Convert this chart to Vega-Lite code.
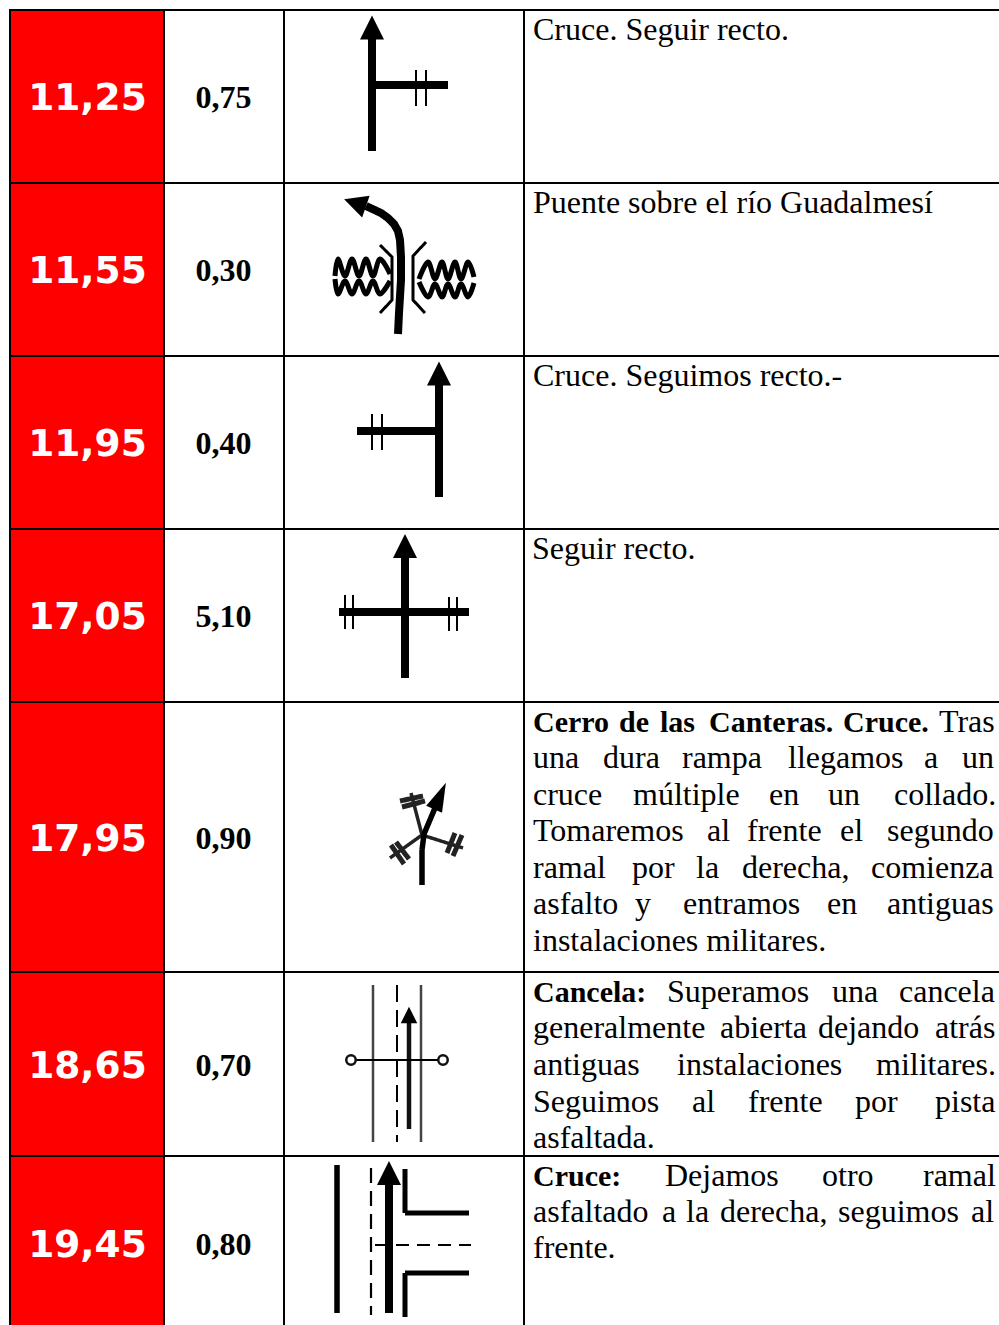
{"$schema":"https://vega.github.io/schema/vega-lite/v6.json","width":999,"height":1325,"padding":0,"autosize":{"type":"none"},"background":"white","config":{"view":{"stroke":null}},
"datasets":{
"filas":[{"km":"11,25","parcial":"0,75","top":10,"bottom":183,"mid":97},{"km":"11,55","parcial":"0,30","top":183,"bottom":356,"mid":270},{"km":"11,95","parcial":"0,40","top":356,"bottom":529,"mid":443},{"km":"17,05","parcial":"5,10","top":529,"bottom":702,"mid":616},{"km":"17,95","parcial":"0,90","top":702,"bottom":972,"mid":838},{"km":"18,65","parcial":"0,70","top":972,"bottom":1156,"mid":1065},{"km":"19,45","parcial":"0,80","top":1156,"bottom":1325,"mid":1244}],
"columnas":[{"x":10},{"x":164},{"x":284},{"x":524}],
"lineas":[{"y":10},{"y":183},{"y":356},{"y":529},{"y":702},{"y":972},{"y":1156}],
"palabras":[
{"w":"Cruce. Seguir recto.","x":533,"y":39.5,"b":0},
{"w":"Puente sobre el río Guadalmesí","x":533,"y":212.5,"b":0},
{"w":"Cruce. Seguimos recto.-","x":533,"y":385.5,"b":0},
{"w":"Seguir recto.","x":532,"y":558.5,"b":0},
{"w":"Cerro","x":533,"y":731.5,"b":1},{"w":"de","x":619,"y":731.5,"b":1},{"w":"las","x":660,"y":731.5,"b":1},{"w":"Canteras.","x":709,"y":731.5,"b":1},{"w":"Cruce.","x":843,"y":731.5,"b":1},{"w":"Tras","x":939,"y":731.5,"b":0},
{"w":"una","x":533,"y":768,"b":0},{"w":"dura","x":603,"y":768,"b":0},{"w":"rampa","x":682,"y":768,"b":0},{"w":"llegamos","x":788,"y":768,"b":0},{"w":"a","x":924,"y":768,"b":0},{"w":"un","x":962,"y":768,"b":0},
{"w":"cruce","x":533,"y":804.5,"b":0},{"w":"múltiple","x":633,"y":804.5,"b":0},{"w":"en","x":769,"y":804.5,"b":0},{"w":"un","x":828,"y":804.5,"b":0},{"w":"collado.","x":894,"y":804.5,"b":0},
{"w":"Tomaremos","x":533,"y":840.5,"b":0},{"w":"al","x":707,"y":840.5,"b":0},{"w":"frente","x":747,"y":840.5,"b":0},{"w":"el","x":840,"y":840.5,"b":0},{"w":"segundo","x":887,"y":840.5,"b":0},
{"w":"ramal","x":533,"y":877.5,"b":0},{"w":"por","x":632,"y":877.5,"b":0},{"w":"la","x":696,"y":877.5,"b":0},{"w":"derecha,","x":742,"y":877.5,"b":0},{"w":"comienza","x":871,"y":877.5,"b":0},
{"w":"asfalto","x":533,"y":913.5,"b":0},{"w":"y","x":635,"y":913.5,"b":0},{"w":"entramos","x":683,"y":913.5,"b":0},{"w":"en","x":827,"y":913.5,"b":0},{"w":"antiguas","x":887,"y":913.5,"b":0},
{"w":"instalaciones militares.","x":533,"y":950.5,"b":0},
{"w":"Cancela:","x":533,"y":1002,"b":1},{"w":"Superamos","x":667,"y":1002,"b":0},{"w":"una","x":832,"y":1002,"b":0},{"w":"cancela","x":899,"y":1002,"b":0},
{"w":"generalmente","x":533,"y":1038,"b":0},{"w":"abierta","x":720,"y":1038,"b":0},{"w":"dejando","x":818,"y":1038,"b":0},{"w":"atrás","x":935,"y":1038,"b":0},
{"w":"antiguas","x":533,"y":1075,"b":0},{"w":"instalaciones","x":677,"y":1075,"b":0},{"w":"militares.","x":876,"y":1075,"b":0},
{"w":"Seguimos","x":533,"y":1112,"b":0},{"w":"al","x":692,"y":1112,"b":0},{"w":"frente","x":748,"y":1112,"b":0},{"w":"por","x":855,"y":1112,"b":0},{"w":"pista","x":935,"y":1112,"b":0},
{"w":"asfaltada.","x":533,"y":1148,"b":0},
{"w":"Cruce:","x":533,"y":1186,"b":1},{"w":"Dejamos","x":665,"y":1186,"b":0},{"w":"otro","x":822,"y":1186,"b":0},{"w":"ramal","x":923,"y":1186,"b":0},
{"w":"asfaltado","x":533,"y":1222,"b":0},{"w":"a","x":662,"y":1222,"b":0},{"w":"la","x":686,"y":1222,"b":0},{"w":"derecha,","x":720,"y":1222,"b":0},{"w":"seguimos","x":838,"y":1222,"b":0},{"w":"al","x":971,"y":1222,"b":0},
{"w":"frente.","x":533,"y":1258,"b":0}],
"trazos":[
{"p":"a1","k":"calzada","i":0,"x":372,"y":151},{"p":"a1","k":"calzada","i":1,"x":372,"y":38},
{"p":"a2","k":"calzada","i":0,"x":372,"y":85},{"p":"a2","k":"calzada","i":1,"x":448,"y":85},
{"p":"a3","k":"marca","i":0,"x":416,"y":70},{"p":"a3","k":"marca","i":1,"x":416,"y":106},
{"p":"a4","k":"marca","i":0,"x":426,"y":70},{"p":"a4","k":"marca","i":1,"x":426,"y":106},
{"p":"b1","k":"calzada","i":0,"x":398,"y":334},{"p":"b1","k":"calzada","i":1,"x":399,"y":313},{"p":"b1","k":"calzada","i":2,"x":401,"y":280},{"p":"b1","k":"calzada","i":3,"x":401,"y":257},{"p":"b1","k":"calzada","i":4,"x":400,"y":240},{"p":"b1","k":"calzada","i":5,"x":398,"y":231},{"p":"b1","k":"calzada","i":6,"x":394,"y":224},{"p":"b1","k":"calzada","i":7,"x":388,"y":218},{"p":"b1","k":"calzada","i":8,"x":381,"y":213},{"p":"b1","k":"calzada","i":9,"x":366,"y":206},
{"p":"b2","k":"arista","i":0,"x":380,"y":245},{"p":"b2","k":"arista","i":1,"x":392,"y":257},{"p":"b2","k":"arista","i":2,"x":392,"y":300},{"p":"b2","k":"arista","i":3,"x":380,"y":313},
{"p":"b3","k":"arista","i":0,"x":426,"y":242},{"p":"b3","k":"arista","i":1,"x":413,"y":256},{"p":"b3","k":"arista","i":2,"x":413,"y":300},{"p":"b3","k":"arista","i":3,"x":425,"y":313},
{"p":"c1","k":"calzada","i":0,"x":439,"y":497},{"p":"c1","k":"calzada","i":1,"x":439,"y":384},
{"p":"c2","k":"calzada","i":0,"x":357,"y":431},{"p":"c2","k":"calzada","i":1,"x":439,"y":431},
{"p":"c3","k":"marca","i":0,"x":372,"y":414},{"p":"c3","k":"marca","i":1,"x":372,"y":450},
{"p":"c4","k":"marca","i":0,"x":382,"y":414},{"p":"c4","k":"marca","i":1,"x":382,"y":450},
{"p":"d1","k":"calzada","i":0,"x":405,"y":678},{"p":"d1","k":"calzada","i":1,"x":405,"y":557},
{"p":"d2","k":"calzada","i":0,"x":339,"y":612},{"p":"d2","k":"calzada","i":1,"x":469,"y":612},
{"p":"d3","k":"marca","i":0,"x":345,"y":595},{"p":"d3","k":"marca","i":1,"x":345,"y":629},
{"p":"d4","k":"marca","i":0,"x":353,"y":595},{"p":"d4","k":"marca","i":1,"x":353,"y":629},
{"p":"d5","k":"marca","i":0,"x":449,"y":597},{"p":"d5","k":"marca","i":1,"x":449,"y":631},
{"p":"d6","k":"marca","i":0,"x":457,"y":597},{"p":"d6","k":"marca","i":1,"x":457,"y":631},
{"p":"e1","k":"ramal","i":0,"x":411,"y":793},{"p":"e1","k":"ramal","i":1,"x":422,"y":835},{"p":"e1","k":"ramal","i":2,"x":390,"y":858},
{"p":"e2","k":"ramal","i":0,"x":422,"y":835},{"p":"e2","k":"ramal","i":1,"x":463,"y":848},
{"p":"e3","k":"barra","i":0,"x":400,"y":801},{"p":"e3","k":"barra","i":1,"x":423,"y":796},
{"p":"e4","k":"barra","i":0,"x":402,"y":807},{"p":"e4","k":"barra","i":1,"x":425,"y":801},
{"p":"e5","k":"barra","i":0,"x":391,"y":845},{"p":"e5","k":"barra","i":1,"x":404,"y":864},
{"p":"e6","k":"barra","i":0,"x":396,"y":842},{"p":"e6","k":"barra","i":1,"x":409,"y":859},
{"p":"e7","k":"barra","i":0,"x":447,"y":853},{"p":"e7","k":"barra","i":1,"x":455,"y":833},
{"p":"e8","k":"barra","i":0,"x":453,"y":856},{"p":"e8","k":"barra","i":1,"x":462,"y":835},
{"p":"e9","k":"principal","i":0,"x":422,"y":885},{"p":"e9","k":"principal","i":1,"x":422,"y":850},{"p":"e9","k":"principal","i":2,"x":424,"y":834},{"p":"e9","k":"principal","i":3,"x":435,"y":808},
{"p":"f1","k":"borde","i":0,"x":373,"y":985},{"p":"f1","k":"borde","i":1,"x":373,"y":1142},
{"p":"f2","k":"borde","i":0,"x":421,"y":985},{"p":"f2","k":"borde","i":1,"x":421,"y":1142},
{"p":"f3","k":"eje","i":0,"x":397,"y":985},{"p":"f3","k":"eje","i":1,"x":397,"y":1142},
{"p":"f4","k":"fino","i":0,"x":409,"y":1129},{"p":"f4","k":"fino","i":1,"x":409,"y":1022},
{"p":"f5","k":"marca","i":0,"x":351,"y":1060},{"p":"f5","k":"marca","i":1,"x":443,"y":1060},
{"p":"g1","k":"margen","i":0,"x":337,"y":1165},{"p":"g1","k":"margen","i":1,"x":337,"y":1313},
{"p":"g2","k":"eje2","i":0,"x":371,"y":1168},{"p":"g2","k":"eje2","i":1,"x":371,"y":1315},
{"p":"g3","k":"calzada","i":0,"x":389,"y":1313},{"p":"g3","k":"calzada","i":1,"x":389,"y":1184},
{"p":"g4","k":"acera","i":0,"x":405,"y":1169},{"p":"g4","k":"acera","i":1,"x":405,"y":1213},{"p":"g4","k":"acera","i":2,"x":469,"y":1213},
{"p":"g5","k":"acera","i":0,"x":405,"y":1317},{"p":"g5","k":"acera","i":1,"x":405,"y":1273},{"p":"g5","k":"acera","i":2,"x":469,"y":1273},
{"p":"g6","k":"transversal","i":0,"x":375,"y":1245},{"p":"g6","k":"transversal","i":1,"x":471,"y":1245}],
"ondas":[
{"p":"o1","i":0,"x":335,"y":276},{"p":"o1","i":1,"x":338,"y":259},{"p":"o1","i":2,"x":345,"y":276},{"p":"o1","i":3,"x":352,"y":259},{"p":"o1","i":4,"x":359,"y":276},{"p":"o1","i":5,"x":366,"y":259},{"p":"o1","i":6,"x":373,"y":276},{"p":"o1","i":7,"x":380,"y":259},{"p":"o1","i":8,"x":390,"y":274},
{"p":"o2","i":0,"x":335,"y":279},{"p":"o2","i":1,"x":338,"y":294},{"p":"o2","i":2,"x":345,"y":281},{"p":"o2","i":3,"x":352,"y":294},{"p":"o2","i":4,"x":359,"y":281},{"p":"o2","i":5,"x":366,"y":294},{"p":"o2","i":6,"x":373,"y":281},{"p":"o2","i":7,"x":380,"y":294},{"p":"o2","i":8,"x":390,"y":281},
{"p":"o3","i":0,"x":419,"y":279},{"p":"o3","i":1,"x":428,"y":262},{"p":"o3","i":2,"x":435,"y":279},{"p":"o3","i":3,"x":442,"y":262},{"p":"o3","i":4,"x":448,"y":279},{"p":"o3","i":5,"x":455,"y":262},{"p":"o3","i":6,"x":461,"y":279},{"p":"o3","i":7,"x":468,"y":262},{"p":"o3","i":8,"x":474,"y":277},
{"p":"o4","i":0,"x":419,"y":282},{"p":"o4","i":1,"x":428,"y":297},{"p":"o4","i":2,"x":435,"y":284},{"p":"o4","i":3,"x":442,"y":297},{"p":"o4","i":4,"x":448,"y":284},{"p":"o4","i":5,"x":455,"y":297},{"p":"o4","i":6,"x":461,"y":284},{"p":"o4","i":7,"x":468,"y":297},{"p":"o4","i":8,"x":474,"y":283}],
"flechas":[
{"k":"recta","x":372,"y":27.5,"r":0},{"k":"curva","x":355,"y":203,"r":289},{"k":"recta","x":439,"y":373.5,"r":0},{"k":"recta","x":405,"y":546,"r":0},{"k":"aguda","x":440,"y":796,"r":24},{"k":"pequena","x":409,"y":1015,"r":0},{"k":"recta","x":389,"y":1173,"r":0}],
"anillos":[{"x":351,"y":1060},{"x":443,"y":1060}]
},
"layer":[
{"data":{"name":"filas"},"mark":{"type":"rect","color":"#ff0000"},"encoding":{"x":{"datum":10,"type":"quantitative","scale":{"domain":[0,999]},"axis":null},"x2":{"datum":164},"y":{"field":"top","type":"quantitative","scale":{"domain":[1325,0]},"axis":null},"y2":{"field":"bottom"}}},
{"data":{"name":"columnas"},"mark":{"type":"rule","color":"#000000","strokeWidth":2},"encoding":{"x":{"field":"x","type":"quantitative","scale":{"domain":[0,999]},"axis":null},"y":{"datum":9,"type":"quantitative","scale":{"domain":[1325,0]},"axis":null},"y2":{"datum":1325}}},
{"data":{"name":"lineas"},"mark":{"type":"rule","color":"#000000","strokeWidth":2},"encoding":{"y":{"field":"y","type":"quantitative","scale":{"domain":[1325,0]},"axis":null},"x":{"datum":9,"type":"quantitative","scale":{"domain":[0,999]},"axis":null},"x2":{"datum":999}}},
{"data":{"name":"filas"},"mark":{"type":"text","font":"DejaVu Sans","fontWeight":"bold","fontSize":37.5,"color":"white","align":"center","baseline":"middle","dy":2},"encoding":{"text":{"field":"km"},"x":{"datum":87.5,"type":"quantitative","scale":{"domain":[0,999]},"axis":null},"y":{"field":"mid","type":"quantitative","scale":{"domain":[1325,0]},"axis":null}}},
{"data":{"name":"filas"},"mark":{"type":"text","font":"Liberation Serif","fontWeight":"bold","fontSize":32,"color":"black","align":"center","baseline":"middle","dy":0.5},"encoding":{"text":{"field":"parcial"},"x":{"datum":223.5,"type":"quantitative","scale":{"domain":[0,999]},"axis":null},"y":{"field":"mid","type":"quantitative","scale":{"domain":[1325,0]},"axis":null}}},
{"data":{"name":"palabras"},"transform":[{"filter":"datum.b==0"}],"mark":{"type":"text","font":"Liberation Serif","fontSize":32,"color":"black","align":"left","baseline":"alphabetic"},"encoding":{"text":{"field":"w"},"x":{"field":"x","type":"quantitative","scale":{"domain":[0,999]},"axis":null},"y":{"field":"y","type":"quantitative","scale":{"domain":[1325,0]},"axis":null}}},
{"data":{"name":"palabras"},"transform":[{"filter":"datum.b==1"}],"mark":{"type":"text","font":"Liberation Serif","fontWeight":"bold","fontSize":30,"color":"black","align":"left","baseline":"alphabetic"},"encoding":{"text":{"field":"w"},"x":{"field":"x","type":"quantitative","scale":{"domain":[0,999]},"axis":null},"y":{"field":"y","type":"quantitative","scale":{"domain":[1325,0]},"axis":null}}},
{"data":{"name":"ondas"},"mark":{"type":"line","color":"#000000","strokeWidth":5,"interpolate":"cardinal"},"encoding":{"x":{"field":"x","type":"quantitative","scale":{"domain":[0,999]},"axis":null},"y":{"field":"y","type":"quantitative","scale":{"domain":[1325,0]},"axis":null},"detail":{"field":"p"},"order":{"field":"i"}}},
{"data":{"name":"trazos"},"mark":{"type":"line"},"encoding":{"x":{"field":"x","type":"quantitative","scale":{"domain":[0,999]},"axis":null},"y":{"field":"y","type":"quantitative","scale":{"domain":[1325,0]},"axis":null},"detail":{"field":"p"},"order":{"field":"i"},
"color":{"field":"k","type":"nominal","legend":null,"scale":{"domain":["calzada","marca","arista","ramal","barra","principal","borde","eje","fino","margen","eje2","acera","transversal"],"range":["#000000","#000000","#000000","#222222","#222222","#000000","#444444","#000000","#111111","#000000","#000000","#000000","#000000"]}},
"strokeWidth":{"field":"k","type":"nominal","legend":null,"scale":{"type":"ordinal","domain":["calzada","marca","arista","ramal","barra","principal","borde","eje","fino","margen","eje2","acera","transversal"],"range":[8,2,3,3.5,5,5.5,2.5,2,4.5,5.5,2.2,5,2]}},
"strokeDash":{"field":"k","type":"nominal","legend":null,"scale":{"domain":["calzada","marca","arista","ramal","barra","principal","borde","eje","fino","margen","eje2","acera","transversal"],"range":[[1,0],[1,0],[1,0],[1,0],[1,0],[1,0],[1,0],[17,8],[1,0],[1,0],[15,8],[1,0],[13,8]]}}}},
{"data":{"name":"flechas"},"mark":{"type":"point","filled":true,"color":"#000000","opacity":1,"strokeWidth":0},"encoding":{"x":{"field":"x","type":"quantitative","scale":{"domain":[0,999]},"axis":null},"y":{"field":"y","type":"quantitative","scale":{"domain":[1325,0]},"axis":null},
"angle":{"field":"r","type":"quantitative","scale":{"domain":[0,360],"range":[0,360]}},
"shape":{"field":"k","type":"nominal","legend":null,"scale":{"domain":["recta","curva","aguda","pequena"],"range":["M0,-1L1,1L-1,1Z","M0,-1L1,1L-1,1Z","M0,-1L0.6,1L-0.6,1Z","M0,-1L1,1L-1,1Z"]}},
"size":{"field":"k","type":"nominal","legend":null,"scale":{"type":"ordinal","domain":["recta","curva","aguda","pequena"],"range":[576,529,841,272]}}}},
{"data":{"name":"anillos"},"mark":{"type":"point","shape":"circle","filled":false,"fill":"white","fillOpacity":1,"stroke":"#111111","strokeWidth":2.5,"opacity":1,"size":90},"encoding":{"x":{"field":"x","type":"quantitative","scale":{"domain":[0,999]},"axis":null},"y":{"field":"y","type":"quantitative","scale":{"domain":[1325,0]},"axis":null}}}
]}
